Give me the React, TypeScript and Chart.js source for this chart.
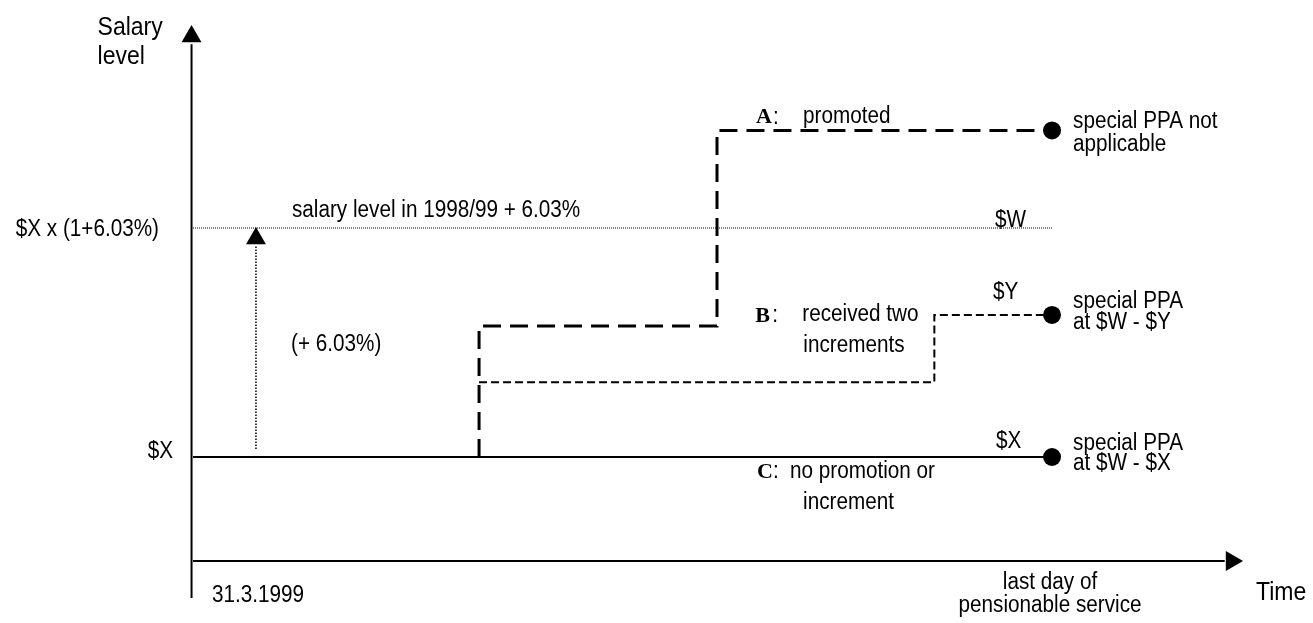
import React, { useEffect, useRef } from 'react';
import { Chart, registerables } from 'chart.js';

Chart.register(...registerables);

// ---- time axis (0 = 31.3.1999, 10 = last day of pensionable service)
const tStart = 0;
const tEnd = 10;
const tPromotion = 3.33;
const tPromotedA = 6.1;
const tIncrementB = 8.63;
const tArrow = 0.733;

// ---- salary levels ($X = 100)
const salaryX = 100;
const salaryW = 106.03;
const salaryY = 103.74;
const salaryA2 = 108.6;

// ---- series
const seriesA_t = [tPromotion, tPromotion, tPromotedA, tPromotedA, tEnd];
const seriesA_v = [100, 103.45, 103.45, 108.6, 108.6];
const seriesB_t = [tPromotion, tIncrementB, tIncrementB, tEnd];
const seriesB_v = [101.97, 101.97, 103.74, 103.74];
const seriesC_t = [tStart, tEnd];
const seriesC_v = [salaryX, salaryX];
const levelW_t = [tStart, tEnd];
const levelW_v = [salaryW, salaryW];
const raise_t = [tArrow, tArrow];
const raise_v = [100.21, 105.56];
const endDots_t = [tEnd, tEnd, tEnd];
const endDots_v = [108.6, 103.74, 100];

// ---- axes (drawn as lines)
const yAxis_t = [-0.017, -0.017];
const yAxis_v = [96.29, 110.87];
const xAxis_t = [0, 12.01];
const xAxis_v = [97.262, 97.262];
const yArrow = { t: -0.017, v: 111.07 };
const xArrow = { t: 12.09, v: 97.262 };
const raiseArrow = { t: tArrow, v: 105.753 };

const zip = (ts: number[], vs: number[]) => ts.map((t, i) => ({ x: t, y: vs[i] }));

const SANS = '"Liberation Sans", Arial, sans-serif';
const SERIF = '"Liberation Serif", "Times New Roman", serif';
const F = `23px ${SANS}`;
const FB = `25px ${SANS}`;
const FS = `bold 22px ${SERIF}`;

type Lbl = { text: string; t: number; v: number; dx: number; dy: number; align?: CanvasTextAlign; font?: string; sx?: number };

const labels: Lbl[] = [
  { text: 'Salary', t: yArrow.t, v: yArrow.v, dx: -94, dy: -8, font: FB, sx: 0.92 },
  { text: 'level', t: yArrow.t, v: yArrow.v, dx: -94, dy: 21, font: FB, sx: 0.92 },
  { text: '$X x (1+6.03%)', t: tStart, v: salaryW, dx: -34, dy: 2, align: 'right' },
  { text: '$X', t: tStart, v: salaryX, dx: -20, dy: -5, align: 'right' },
  { text: 'salary level in 1998/99 + 6.03%', t: tStart, v: salaryW, dx: 99, dy: -17 },
  { text: '(+ 6.03%)', t: tStart, v: salaryW, dx: 98, dy: 117 },
  { text: '$W', t: tEnd, v: salaryW, dx: -57, dy: -7 },
  { text: 'A', t: tEnd, v: salaryA2, dx: -296, dy: -13, font: FS, sx: 1 },
  { text: ':', t: tEnd, v: salaryA2, dx: -279, dy: -13 },
  { text: 'promoted', t: tEnd, v: salaryA2, dx: -249, dy: -14 },
  { text: 'special PPA not', t: tEnd, v: salaryA2, dx: 21, dy: -9 },
  { text: 'applicable', t: tEnd, v: salaryA2, dx: 21, dy: 14 },
  { text: '$Y', t: tEnd, v: salaryY, dx: -59, dy: -22 },
  { text: 'B', t: tIncrementB, v: salaryY, dx: -179, dy: 1, font: FS, sx: 1 },
  { text: ':', t: tIncrementB, v: salaryY, dx: -162, dy: 1 },
  { text: 'received two', t: tIncrementB, v: salaryY, dx: -132, dy: 0 },
  { text: 'increments', t: tIncrementB, v: salaryY, dx: -131, dy: 31 },
  { text: 'special PPA', t: tEnd, v: salaryY, dx: 21, dy: -13 },
  { text: 'at $W - $Y', t: tEnd, v: salaryY, dx: 21, dy: 8 },
  { text: '$X', t: tEnd, v: salaryX, dx: -56, dy: -15 },
  { text: 'C', t: tEnd, v: salaryX, dx: -295, dy: 15, font: FS, sx: 1 },
  { text: ':', t: tEnd, v: salaryX, dx: -279, dy: 15 },
  { text: 'no promotion or', t: tEnd, v: salaryX, dx: -262, dy: 15 },
  { text: 'increment', t: tEnd, v: salaryX, dx: -249, dy: 46 },
  { text: 'special PPA', t: tEnd, v: salaryX, dx: 21, dy: -13 },
  { text: 'at $W - $X', t: tEnd, v: salaryX, dx: 21, dy: 7 },
  { text: '31.3.1999', t: tStart, v: xAxis_v[0], dx: 19, dy: 35 },
  { text: 'last day of', t: tEnd, v: xAxis_v[0], dx: -2, dy: 22, align: 'center' },
  { text: 'pensionable service', t: tEnd, v: xAxis_v[0], dx: -2, dy: 45, align: 'center' },
  { text: 'Time', t: tEnd, v: xAxis_v[0], dx: 204, dy: 32, font: FB, sx: 0.92 },
];

const textPlugin = {
  id: 'diagramText',
  afterDatasetsDraw(chart: any) {
    const ctx = chart.ctx as CanvasRenderingContext2D;
    const xs = chart.scales.x;
    const ys = chart.scales.y;
    labels.forEach((l) => {
      ctx.save();
      ctx.fillStyle = '#000';
      ctx.textBaseline = 'middle';
      ctx.font = l.font || F;
      ctx.textAlign = l.align || 'left';
      ctx.translate(xs.getPixelForValue(l.t) + l.dx, ys.getPixelForValue(l.v) + l.dy);
      ctx.scale(l.sx ?? 0.9, 1);
      ctx.fillText(l.text, 0, 0);
      ctx.restore();
    });
  },
};

export default function App() {
  const ref = useRef<HTMLCanvasElement | null>(null);
  useEffect(() => {
    document.body.style.margin = '0';
    const canvas = ref.current!;
    const line = (data: any[], width: number, dash: number[] = []) => ({
      data,
      borderColor: '#000',
      borderWidth: width,
      borderDash: dash,
      borderCapStyle: 'butt',
      borderJoinStyle: 'miter',
      pointRadius: 0,
      fill: false,
      tension: 0,
    });
    const marker = (data: any[], style: string, radius: number, rotation = 0) => ({
      data,
      showLine: false,
      pointStyle: style,
      pointRadius: radius,
      pointRotation: rotation,
      pointBackgroundColor: '#000',
      pointBorderColor: '#000',
      pointBorderWidth: 0,
    });
    const chart = new Chart(canvas, {
      type: 'line',
      data: {
        datasets: [
          line(zip(yAxis_t, yAxis_v), 2),
          line(zip(xAxis_t, xAxis_v), 2),
          line(zip(levelW_t, levelW_v), 1, [1, 1]),
          line(zip(raise_t, raise_v), 1.5, [1.5, 1.5]),
          line(zip(seriesC_t, seriesC_v), 2),
          line(zip(seriesB_t, seriesB_v), 2, [8, 4]),
          line(zip(seriesA_t, seriesA_v), 3, [18, 9]),
          marker(zip(endDots_t, endDots_v), 'circle', 9),
          marker([{ x: yArrow.t, y: yArrow.v }], 'triangle', 11.5),
          marker([{ x: xArrow.t, y: xArrow.v }], 'triangle', 11.5, 90),
          marker([{ x: raiseArrow.t, y: raiseArrow.v }], 'triangle', 11.5),
        ] as any,
      },
      options: {
        responsive: false,
        animation: false,
        events: [],
        layout: { padding: 0, autoPadding: false },
        scales: {
          x: { type: 'linear', min: -2.2468, max: 13.038, display: false },
          y: { type: 'linear', min: 95.629, max: 112.034, display: false },
        },
        plugins: { legend: { display: false }, tooltip: { enabled: false }, title: { display: false } },
      },
      plugins: [textPlugin],
    });
    return () => chart.destroy();
  }, []);
  return (
    <div style={{ width: 1313, height: 623, background: '#fff' }}>
      <canvas ref={ref} width={1313} height={623} style={{ display: 'block' }} />
    </div>
  );
}
